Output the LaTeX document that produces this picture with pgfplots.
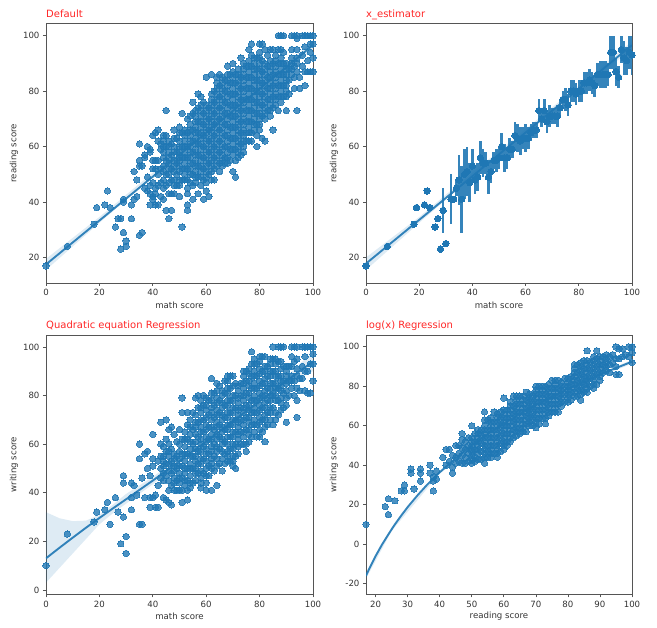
\documentclass[border=0pt]{standalone}
\usepackage{fontspec}
\setmainfont{DejaVu Sans}
\usepackage{pgfplots}
\pgfplotsset{compat=1.18}
\definecolor{sb}{HTML}{1F77B4}
\definecolor{tk}{HTML}{333333}
\definecolor{sp}{HTML}{555555}
\pgfplotsset{panel/.style={
 scale only axis,width=267pt,height=259.5pt,anchor=south west,
 axis line style={sp,line width=0.9pt},
 tick style={sp,line width=0.7pt},tick align=outside,major tick length=3pt,
 xtick pos=bottom,ytick pos=left,
 tick label style={font=\fontsize{8.6}{10}\selectfont,text=tk},
 /pgf/number format/assume math mode=true,
 label style={font=\fontsize{8.6}{10}\selectfont,text=tk},
 xlabel style={at={(axis description cs:0.5,-0.085)},anchor=center},
 ylabel style={at={(axis description cs:-0.12,0.5)},anchor=center},
 every axis title shift/.style={yshift=4.5pt},
 title style={at={(axis description cs:0,1)},anchor=base west,inner sep=0pt,font=\fontsize{10}{12}\selectfont,text=red!85!white},
},
pts/.style={sb,only marks,mark=*,mark size=3.2pt,mark options={solid,draw=sb,fill=sb,line width=0pt,opacity=0.8}},
reg/.style={sb,line width=1.9pt,no marks,opacity=0.9},
band/.style={fill=sb,fill opacity=0.15,draw=none,no marks},
}
\begin{document}
\begin{tikzpicture}
\path[use as bounding box] (0,0) rectangle (657pt,628pt);
% Default
\begin{axis}[panel,at={(46pt,345pt)},xmin=0,xmax=100,ymin=10.8,ymax=104.4,xtick={0,20,40,60,80,100},ytick={20,40,60,80,100},xlabel={math score},ylabel={reading score},title={Default}]
\addplot[pts] coordinates {(0,17)(8,24)(18,32)(19,38)(22,39)(23,44)(24,38)(26,31)(27,34)(28,34)(28,23)(29,41)(29,29)(29,40)(30,26)(30,24)(32,34)(32,39)(33,41)(34,42)(35,28)(36,29)(33,51)(35,61)(35,55)(35,53)(36,53)(34,48)(37,56)(37,57)(37,45)(38,60)(38,49)(38,44)(39,58)(39,59)(39,46)(39,43)(39,39)
(40,64)(40,55)(40,52)(40,47)(40,42)(40,41)(41,65)(41,55)(41,52)(41,45)(41,43)(41,39)(42,66)(42,62)(42,55)(42,50)(42,46)(42,39)(43,61)(43,59)(43,52)(43,47)(43,42)(44,64)(44,62)(44,60)(44,53)(44,48)(44,45)(44,41)(45,73)(45,64)(45,60)(45,55)(45,50)(45,46)(45,37)(46,62)(46,58)(46,54)(46,50)(46,43)(46,34)(47,61)(47,57)(47,52)(47,48)(47,43)(47,37)(48,66)(48,60)(48,55)(48,51)(48,46)(48,43)(49,63)(49,58)(49,54)(49,50)(49,46)
(50,67)(50,65)(50,62)(50,58)(50,55)(50,51)(50,48)(50,42)(51,72)(51,65)(51,60)(51,56)(51,52)(51,48)(51,31)(52,66)(52,62)(52,58)(52,54)(52,50)(52,48)(53,70)(53,65)(53,60)(53,56)(53,52)(53,48)(53,45)(53,43)(53,39)(53,37)(54,71)(54,66)(54,62)(54,58)(54,54)(54,50)(55,76)(55,72)(55,66)(55,62)(55,58)(55,54)(55,50)(55,46)(55,41)(56,71)(56,67)(56,63)(56,59)(56,55)(56,51)(56,47)(57,79)(57,74)(57,69)(57,65)(57,61)(57,57)(57,53)(57,49)(57,43)(58,78)(58,73)(58,69)(58,65)(58,61)(58,57)(58,53)(58,49)(58,46)(59,76)(59,72)(59,68)(59,64)(59,60)(59,56)(59,52)(59,48)(59,41)
(60,85)(60,75)(60,71)(60,67)(60,63)(60,59)(60,55)(60,51)(60,47)(60,44)(61,74)(61,70)(61,66)(61,62)(61,58)(61,54)(61,50)(61,42)(62,86)(62,77)(62,73)(62,69)(62,65)(62,61)(62,57)(62,53)(62,48)(63,80)(63,76)(63,72)(63,68)(63,64)(63,60)(63,56)(63,52)(63,48)(64,85)(64,81)(64,77)(64,73)(64,69)(64,65)(64,61)(64,57)(64,53)(65,86)(65,82)(65,78)(65,74)(65,70)(65,66)(65,62)(65,58)(65,54)(65,51)(66,85)(66,81)(66,77)(66,73)(66,69)(66,65)(66,61)(66,57)(66,53)(67,84)(67,80)(67,76)(67,72)(67,68)(67,64)(67,60)(67,56)(67,54)(68,89)(68,86)(68,82)(68,78)(68,74)(68,70)(68,66)(68,62)(68,58)(68,54)(69,86)(69,83)(69,79)(69,75)(69,71)(69,67)(69,63)(69,59)(69,55)
(70,90)(70,85)(70,81)(70,77)(70,73)(70,69)(70,65)(70,61)(70,57)(70,51)(71,86)(71,83)(71,79)(71,75)(71,71)(71,67)(71,63)(71,59)(71,55)(71,49)(72,88)(72,84)(72,80)(72,76)(72,72)(72,68)(72,64)(72,60)(72,56)(73,92)(73,85)(73,81)(73,77)(73,73)(73,69)(73,65)(73,61)(73,57)(74,90)(74,86)(74,82)(74,78)(74,74)(74,70)(74,66)(74,62)(74,58)(75,89)(75,85)(75,81)(75,77)(75,73)(75,69)(75,65)(75,62)(76,95)(76,91)(76,87)(76,83)(76,79)(76,75)(76,71)(76,67)(76,62)(77,97)(77,93)(77,89)(77,85)(77,81)(77,77)(77,73)(77,69)(77,65)(77,62)(78,90)(78,86)(78,82)(78,78)(78,74)(78,70)(78,66)(79,92)(79,88)(79,84)(79,80)(79,76)(79,72)(79,68)(79,64)(79,60)
(80,97)(80,94)(80,90)(80,86)(80,82)(80,78)(80,74)(80,70)(80,66)(81,97)(81,91)(81,87)(81,83)(81,79)(81,75)(81,71)(81,63)(82,95)(82,90)(82,86)(82,82)(82,78)(82,74)(82,70)(82,62)(83,93)(83,89)(83,85)(83,81)(83,77)(83,73)(84,95)(84,91)(84,87)(84,83)(84,79)(84,75)(84,71)(85,95)(85,90)(85,86)(85,82)(85,78)(85,74)(85,66)(86,91)(86,87)(86,83)(86,79)(86,75)(87,100)(87,95)(87,90)(87,86)(87,82)(87,78)(87,73)(88,100)(88,95)(88,92)(88,88)(88,84)(88,80)(88,76)(89,100)(89,94)(89,90)(89,86)(89,82)(89,78)
(90,90)(90,86)(90,82)(90,78)(90,73)(91,88)(91,84)(91,79)(92,100)(92,95)(92,90)(92,86)(93,100)(93,89)(93,85)(93,81)(94,100)(94,99)(94,90)(94,87)(94,73)(95,85)(95,81)(96,100)(96,93)(96,89)(97,100)(97,96)(97,87)(97,82)(98,100)(98,91)(98,87)(99,100)(99,97)(99,94)(99,87)(100,100)(100,97)(100,92)(100,87)};
\addplot[pts] coordinates {(44,58)(44,56)(44,51)(46,60)(46,56)(46,52)(46,47)(48,63)(48,58)(48,53)(48,48)(50,60)(50,56)(50,53)(50,46)(52,64)(52,60)(52,56)(52,52)(54,68)(54,64)(54,60)(54,56)(54,52)(54,47)(56,73)(56,69)(56,65)(56,61)(56,57)(56,53)(56,49)(58,75)(58,71)(58,67)(58,63)(58,59)(58,55)(58,51)(60,73)(60,69)(60,65)(60,61)(60,57)(60,53)(60,49)(62,79)(62,75)(62,71)(62,67)(62,63)(62,59)(62,55)(62,51)(64,83)(64,79)(64,75)(64,71)(64,67)(64,63)(64,59)(64,55)(66,83)(66,79)(66,75)(66,71)(66,67)(66,63)(66,59)(66,55)(68,84)(68,80)(68,76)(68,72)(68,68)(68,64)(68,60)(68,56)(70,87)(70,83)(70,79)(70,75)(70,71)(70,67)(70,63)(70,59)(72,86)(72,82)(72,78)(72,74)(72,70)(72,66)(72,62)(72,58)(74,88)(74,84)(74,80)(74,76)(74,72)(74,68)(74,64)(74,60)(76,89)(76,85)(76,81)(76,77)(76,73)(76,69)(76,65)(78,92)(78,88)(78,84)(78,80)(78,76)(78,72)(78,68)(80,92)(80,88)(80,84)(80,80)(80,76)(80,72)(80,68)(82,88)(82,84)(82,80)(82,76)(82,72)(84,89)(84,85)(84,81)(84,77)(84,73)(86,93)(86,89)(86,85)(86,81)(86,77)(88,90)(88,86)(88,82)(88,78)(90,88)(90,84)(90,80)(92,92)(92,88)(94,95)(94,92)};
\addplot[band] coordinates {(0,15.5)(20,32.5)(40,49.2)(60,65)(80,80.6)(100,95)(100,98)(80,82)(60,66.3)(40,50.6)(20,34.6)(0,19.5)} -- cycle;
\addplot[reg] coordinates {(0,17.5)(100,96.6)};
\end{axis}
% x_estimator
\begin{axis}[panel,at={(366pt,345pt)},width=266pt,xmin=0,xmax=100,ymin=10.8,ymax=104.4,xtick={0,20,40,60,80,100},ytick={20,40,60,80,100},xlabel={math score},ylabel={reading score},title={x\_estimator}]
\addplot[sb,only marks,mark=*,mark size=3.2pt,mark options={solid,draw=sb,fill=sb,line width=0pt},
 error bars/.cd,y dir=both,y explicit,error mark=none,error bar style={sb,line width=2.6pt,opacity=0.9}]
 coordinates {(0,17)(8,24)(18,32)(19,38)(22,39)(23,44)(24,38)(26,31)(27,34)(28,23)(29,37)+-(0,8)(30,25)(32,41)+-(0,9)(33,41)(34,45)+-(0,3)(35,48)+-(0,9)(36,41)+-(0,12)(37,50)+-(0,9)(38,51)+-(0,9)(39,47)+-(0,7)
 (40,53)+-(0,6)(41,48)+-(0,5)(42,49)+-(0,5)(43,56)+-(0,6)(44,54)+-(0,5)(45,54)+-(0,4)(46,49)+-(0,6)(47,51)+-(0,4)(48,55)+-(0,3)(49,55)+-(0,4)
 (50,56)+-(0,4)(51,60)+-(0,5)(52,56)+-(0,5)(53,56)+-(0,4)(54,59)+-(0,4)(55,59)+-(0,3)(56,64)+-(0,5)(57,63)+-(0,5)(58,62)+-(0,5)(59,63)+-(0,4)
 (60,63)+-(0,5)(61,63)+-(0,4)(62,65)+-(0,3)(63,66)+-(0,3)(64,66)+-(0,3)(65,73)+-(0,4)(66,70)+-(0,3)(67,73)+-(0,4)(68,69)+-(0,4)(69,71)+-(0,4)
 (70,71)+-(0,3)(71,71)+-(0,3)(72,71)+-(0,4)(73,74)+-(0,3)(74,77)+-(0,3)(75,77)+-(0,4)(76,75)+-(0,4)(77,80)+-(0,4)(78,80)+-(0,4)(79,79)+-(0,4)
 (80,80)+-(0,4)(81,80)+-(0,4)(82,83)+-(0,4)(83,83)+-(0,4)(84,84)+-(0,4)(85,83)+-(0,4)(86,82)+-(0,4)(87,86)+-(0,4)(88,86)+-(0,5)(89,86)+-(0,5)
 (90,86)+-(0,5)(91,86)+-(0,4)(92,94)+-(0,6)(93,94)+-(0,6)(94,87)+-(0,5)(95,85)+-(0,4)(96,95)+-(0,5)(97,92)+-(0,6)(98,91)+-(0,5)(99,94)+-(0,6)(100,93)+-(0,7)};
\addplot[band] coordinates {(0,15.5)(20,32.5)(40,49.2)(60,65)(80,80.6)(100,95)(100,98)(80,82)(60,66.3)(40,50.6)(20,34.6)(0,20)} -- cycle;
\addplot[reg] coordinates {(0,17.8)(100,96.6)};
\end{axis}
% Quadratic
\begin{axis}[panel,at={(46pt,33.7pt)},height=259.3pt,xmin=0,xmax=100,ymin=-1.8,ymax=104.9,xtick={0,20,40,60,80,100},ytick={0,20,40,60,80,100},xlabel={math score},ylabel={writing score},title={Quadratic equation Regression}]
\addplot[pts] coordinates {(0,10)(8,23)(18,28)(19,32)(22,33)(23,36)(24,27)(26,38)(27,32)(28,19)(29,47)(29,44)(29,30)(30,22)(30,15)(32,44)(32,38)(32,33)(33,43)(34,39)(35,27)(36,27)(35,60)(35,54)(37,56)(36,46)(37,38)(38,57)(38,50)(39,34)(39,38)(39,47)(40,64)(40,54)(40,51)(40,38)(41,34)(41,39)(42,34)(42,43)(42,53)
(43,69)(43,60)(43,55)(43,50)(43,46)(44,59)(44,55)(44,51)(44,45)(44,38)(45,70)(45,62)(45,57)(45,52)(45,47)(45,37)(46,66)(46,60)(46,55)(46,49)(46,41)(46,36)(47,67)(47,58)(47,53)(47,48)(47,43)(47,35)(48,64)(48,56)(48,51)(48,46)(48,41)(49,61)(49,55)(49,50)(49,45)(49,41)
(50,66)(50,60)(50,54)(50,48)(50,44)(50,41)(51,79)(51,73)(51,62)(51,56)(51,51)(51,46)(51,41)(51,36)(52,65)(52,59)(52,53)(52,48)(52,43)(53,73)(53,68)(53,62)(53,56)(53,50)(53,45)(53,41)(53,37)(54,70)(54,64)(54,58)(54,52)(54,47)(54,42)(55,73)(55,66)(55,60)(55,55)(55,50)(55,44)(56,79)(56,72)(56,67)(56,61)(56,55)(56,50)(56,45)(57,80)(57,75)(57,69)(57,63)(57,57)(57,52)(57,48)(58,78)(58,73)(58,67)(58,62)(58,57)(58,52)(58,46)(58,42)(59,80)(59,76)(59,70)(59,65)(59,59)(59,54)(59,48)
(60,79)(60,74)(60,68)(60,63)(60,58)(60,53)(60,47)(60,41)(61,78)(61,72)(61,67)(61,62)(61,56)(61,51)(61,47)(62,87)(62,81)(62,75)(62,70)(62,64)(62,59)(62,54)(62,50)(62,41)(63,81)(63,76)(63,71)(63,66)(63,60)(63,55)(63,49)(64,85)(64,79)(64,74)(64,69)(64,64)(64,59)(64,54)(64,43)(65,84)(65,78)(65,73)(65,68)(65,63)(65,58)(65,52)(66,82)(66,77)(66,72)(66,67)(66,62)(66,57)(66,49)(67,86)(67,81)(67,76)(67,71)(67,66)(67,61)(67,56)(67,52)(68,88)(68,83)(68,78)(68,73)(68,68)(68,63)(68,57)(68,53)(69,88)(69,83)(69,78)(69,73)(69,68)(69,63)(69,58)(69,53)
(70,88)(70,80)(70,75)(70,70)(70,65)(70,60)(70,55)(70,51)(71,85)(71,80)(71,75)(71,70)(71,65)(71,60)(71,55)(71,50)(72,84)(72,79)(72,74)(72,69)(72,64)(72,59)(72,56)(73,85)(73,80)(73,75)(73,70)(73,65)(73,60)(74,90)(74,85)(74,80)(74,75)(74,70)(74,65)(74,60)(75,90)(75,86)(75,81)(75,76)(75,71)(75,66)(75,60)(75,57)(76,91)(76,86)(76,81)(76,76)(76,71)(76,66)(76,61)(77,98)(77,93)(77,88)(77,83)(77,78)(77,73)(77,68)(77,63)(78,95)(78,90)(78,85)(78,80)(78,75)(78,70)(78,65)(79,93)(79,88)(79,83)(79,78)(79,73)(79,68)(79,63)
(80,96)(80,91)(80,86)(80,81)(80,76)(80,71)(80,66)(80,63)(81,96)(81,90)(81,85)(81,80)(81,75)(81,70)(81,65)(82,96)(82,92)(82,87)(82,82)(82,77)(82,72)(82,67)(82,61)(83,92)(83,88)(83,83)(83,78)(83,73)(83,68)(84,95)(84,90)(84,85)(84,80)(84,75)(84,70)(85,100)(85,95)(85,90)(85,85)(85,80)(85,75)(85,68)(86,95)(86,90)(86,85)(86,80)(86,73)(86,70)(87,100)(87,94)(87,88)(87,83)(87,78)(87,72)(88,100)(88,94)(88,88)(88,84)(88,79)(88,74)(89,100)(89,92)(89,86)(89,81)(89,75)
(90,92)(90,88)(90,82)(90,76)(90,69)(91,92)(91,86)(91,80)(92,100)(92,96)(92,88)(92,83)(93,100)(93,94)(93,86)(93,80)(94,100)(94,91)(94,78)(94,71)(95,87)(95,82)(96,100)(96,92)(96,87)(97,100)(97,96)(97,90)(97,82)(98,100)(98,90)(98,81)(99,100)(99,93)(99,81)(100,100)(100,97)(100,93)(100,86)};
\addplot[pts] coordinates {(44,53)(44,48)(46,57)(46,52)(46,45)(48,54)(48,49)(48,44)(50,57)(50,51)(50,46)(52,62)(52,56)(52,50)(52,45)(54,67)(54,61)(54,55)(54,50)(54,44)(56,69)(56,64)(56,58)(56,53)(56,48)(58,75)(58,70)(58,65)(58,60)(58,54)(58,49)(58,44)(60,76)(60,71)(60,66)(60,61)(60,56)(60,50)(60,44)(62,78)(62,73)(62,67)(62,62)(62,57)(62,52)(64,82)(64,77)(64,72)(64,67)(64,62)(64,57)(64,51)(66,80)(66,75)(66,70)(66,65)(66,60)(66,54)(68,86)(68,81)(68,76)(68,71)(68,66)(68,60)(68,55)(70,84)(70,78)(70,73)(70,68)(70,63)(70,58)(70,53)(72,82)(72,77)(72,72)(72,67)(72,62)(74,88)(74,83)(74,78)(74,73)(74,68)(74,63)(76,89)(76,84)(76,79)(76,74)(76,69)(76,64)(78,93)(78,88)(78,83)(78,78)(78,73)(78,68)(80,94)(80,89)(80,84)(80,79)(80,74)(80,69)(82,90)(82,85)(82,80)(82,75)(82,70)(84,93)(84,88)(84,83)(84,78)(84,73)(86,93)(86,88)(86,83)(86,78)(88,91)(88,86)(88,82)(88,77)(90,90)(90,85)(90,79)(92,92)(92,86)(94,95)(94,88)(94,83)};
\addplot[band] coordinates {(0,3)(5,9)(10,15)(15,21)(20,27)(25,31.5)(30,35.5)(40,43.5)(60,60)(80,76.5)(90,84)(100,90)(100,98)(90,87.8)(80,79)(60,62.3)(40,46.5)(35,43)(30,39.5)(25,35)(20,31)(15,28.5)(10,28.3)(5,29.5)(0,32)} -- cycle;
\addplot[reg] coordinates {(0,13)(5,17.3)(10,21.5)(15,25.6)(20,29.6)(25,33.5)(30,37.3)(40,45)(50,53)(60,61)(70,69.5)(80,77.5)(90,86)(100,94)};
\end{axis}
% log
\begin{axis}[panel,at={(366pt,33.7pt)},width=266pt,height=259.3pt,xmin=17,xmax=100,ymin=-25.4,ymax=106,xtick={20,30,40,50,60,70,80,90,100},ytick={-20,0,20,40,60,80,100},xlabel={reading score},ylabel={writing score},title={log(x) Regression}]
\addplot[pts] coordinates {(17,10)(23,19)(24,23)(24,15)(26,22)(28,27)(29,27)(29,30)(31,38)(31,36)(32,28)(34,38)(34,36)(34,32)(37,40)(37,36)(38,32)(38,27)(38,34)(39,37)(39,33)(41,44)(42,48)(42,40)(43,48)(43,42)(44,45)(44,39)(44,36)(45,50)(45,44)(45,41)
(46,50)(46,46)(46,42)(47,56)(47,53)(47,49)(47,45)(47,41)(48,52)(48,48)(48,44)(48,41)(49,54)(49,50)(49,46)(49,42)(50,60)(50,54)(50,50)(50,47)(50,43)(50,41)(51,56)(51,52)(51,48)(51,44)(51,42)(52,58)(52,54)(52,50)(52,46)(52,43)(53,58)(53,55)(53,51)(53,47)(53,43)(54,67)(54,63)(54,58)(54,54)(54,50)(54,46)(54,41)(55,63)(55,58)(55,54)(55,50)(55,47)(55,44)(56,64)(56,60)(56,56)(56,52)(56,48)(56,44)(57,67)(57,62)(57,58)(57,54)(57,50)(57,46)(58,66)(58,62)(58,58)(58,54)(58,50)(58,46)(58,44)(59,67)(59,63)(59,59)(59,55)(59,51)(59,47)
(60,74)(60,68)(60,64)(60,60)(60,56)(60,52)(60,48)(61,68)(61,64)(61,60)(61,56)(61,52)(61,50)(62,72)(62,68)(62,64)(62,60)(62,56)(62,52)(63,75)(63,70)(63,66)(63,62)(63,58)(63,54)(64,75)(64,71)(64,67)(64,63)(64,59)(64,55)(65,75)(65,71)(65,67)(65,63)(65,59)(65,56)(66,73)(66,69)(66,65)(66,61)(66,57)(67,77)(67,73)(67,69)(67,65)(67,61)(67,57)(68,76)(68,72)(68,68)(68,64)(68,60)(69,75)(69,71)(69,67)(69,63)(69,60)
(70,80)(70,76)(70,72)(70,68)(70,64)(70,59)(71,80)(71,76)(71,72)(71,68)(71,64)(71,61)(72,80)(72,76)(72,72)(72,68)(72,64)(73,80)(73,76)(73,72)(73,68)(73,64)(73,61)(74,81)(74,77)(74,73)(74,69)(74,65)(75,83)(75,79)(75,75)(75,71)(75,67)(76,83)(76,79)(76,75)(76,71)(76,67)(77,83)(77,79)(77,75)(77,71)(77,67)(78,82)(78,78)(78,74)(78,70)(79,84)(79,80)(79,76)(79,72)
(80,84)(80,80)(80,76)(80,72)(81,85)(81,81)(81,77)(81,73)(82,91)(82,87)(82,83)(82,79)(82,75)(83,91)(83,87)(83,83)(83,79)(83,75)(84,92)(84,88)(84,84)(84,80)(84,76)(84,73)(85,93)(85,89)(85,85)(85,81)(85,77)(86,98)(86,93)(86,89)(86,85)(86,81)(86,77)(87,92)(87,88)(87,84)(87,80)(88,95)(88,91)(88,87)(88,83)(88,79)(89,98)(89,94)(89,90)(89,86)(89,81)
(90,95)(90,91)(90,87)(90,83)(91,95)(91,91)(91,87)(92,96)(92,92)(92,88)(93,95)(93,91)(93,87)(94,96)(94,92)(95,100)(95,94)(95,90)(95,86)(96,99)(96,94)(96,86)(97,99)(97,95)(98,96)(99,100)(99,95)(100,100)(100,97)(100,92)};
\addplot[pts] coordinates {(50,52)(50,48)(50,45)(52,56)(52,52)(52,48)(54,60)(54,56)(54,52)(54,48)(54,44)(56,62)(56,58)(56,54)(56,50)(56,46)(58,64)(58,60)(58,56)(58,52)(58,48)(60,66)(60,62)(60,58)(60,54)(60,50)(62,70)(62,66)(62,62)(62,58)(62,54)(64,73)(64,69)(64,65)(64,61)(64,57)(66,75)(66,71)(66,67)(66,63)(66,59)(68,74)(68,70)(68,66)(68,62)(70,78)(70,74)(70,70)(70,66)(70,62)(72,78)(72,74)(72,70)(72,66)(74,79)(74,75)(74,71)(74,67)(76,81)(76,77)(76,73)(76,69)(78,80)(78,76)(78,72)(80,82)(80,78)(80,74)(82,89)(82,85)(82,81)(82,77)(84,90)(84,86)(84,82)(84,78)(86,91)(86,87)(86,83)(86,79)(88,93)(88,89)(88,85)(88,81)(90,93)(90,89)(90,85)(92,94)(92,90)};
\addplot[band] coordinates {(17,-17.5)(25,6.7)(40,35.8)(60,60.7)(80,78.3)(100,91.5)(100,93.5)(80,79.3)(60,61.7)(40,37)(25,8.5)(17,-14.5)} -- cycle;
\addplot[reg] coordinates {(17,-16)(18,-12.5)(19,-9.2)(20,-6)(22,-0.2)(24,5)(26,10)(28,14.5)(30,18.8)(33,24.6)(36,30)(40,36.4)(45,43.6)(50,50)(55,55.8)(60,61.2)(70,70.6)(80,78.8)(90,86)(100,92.5)};
\end{axis}
\end{tikzpicture}
\end{document}
